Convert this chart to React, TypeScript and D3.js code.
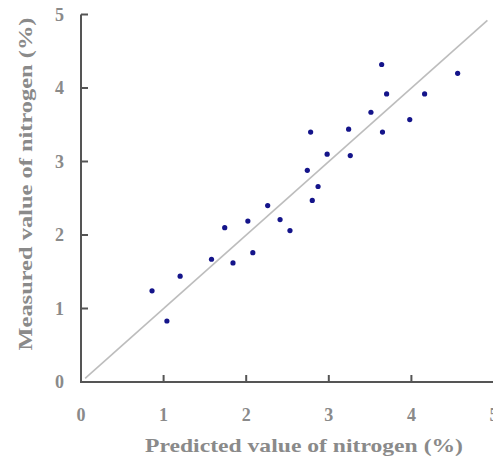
import React from "react";
import * as d3 from "d3";

const predicted = [0.86, 1.04, 1.2, 1.58, 1.74, 1.84, 2.02, 2.08, 2.26, 2.41, 2.53, 2.8, 2.74, 2.87, 2.98, 2.78, 3.24, 3.26, 3.51, 3.65, 3.64, 3.7, 3.98, 4.16, 4.56];
const measured = [1.24, 0.83, 1.44, 1.67, 2.1, 1.62, 2.19, 1.76, 2.4, 2.21, 2.06, 2.47, 2.88, 2.66, 3.1, 3.4, 3.44, 3.08, 3.67, 3.4, 4.32, 3.92, 3.57, 3.92, 4.2];
const xTicks = [0, 1, 2, 3, 4, 5];
const yTicks = [0, 1, 2, 3, 4, 5];
const refLine = [0.05, 4.92];

const W = 493;
const H = 461;

export default function App() {
  const x = d3.scaleLinear().domain([0, 5]).range([81, 494]);
  const y = d3.scaleLinear().domain([0, 5]).range([382, 14.5]);
  const axisColor = "#555";
  const labelColor = "#8a8a8a";
  const font = "'Liberation Serif', 'Times New Roman', serif";
  const line = d3.line<number>().x((d) => x(d)).y((d) => y(d));

  return (
    <svg width={W} height={H} style={{ position: "absolute", left: 0, top: 0, background: "#fff" }}>
      <path d={line(refLine) || ""} stroke="#bdbdbd" strokeWidth={1.6} fill="none" />
      <line x1={x(0)} x2={x(0)} y1={y(5)} y2={y(0) + 1} stroke={axisColor} strokeWidth={2} />
      <line x1={x(0) - 1} x2={W} y1={y(0)} y2={y(0)} stroke={axisColor} strokeWidth={2} />
      {yTicks.filter((t) => t > 0).map((t) => (
        <line key={"yt" + t} x1={x(0)} x2={x(0) + 7} y1={y(t)} y2={y(t)} stroke={axisColor} strokeWidth={2} />
      ))}
      {xTicks.filter((t) => t > 0).map((t) => (
        <line key={"xt" + t} x1={x(t)} x2={x(t)} y1={y(0)} y2={y(0) - 7} stroke={axisColor} strokeWidth={2} />
      ))}
      {yTicks.map((t) => (
        <text key={"yl" + t} x={64} y={y(t)} dy="0.35em" textAnchor="end" fontFamily={font} fontSize={18} fontWeight="bold" fill={labelColor}>
          {t}
        </text>
      ))}
      {xTicks.map((t) => (
        <text key={"xl" + t} x={x(t)} y={421} textAnchor="middle" fontFamily={font} fontSize={18} fontWeight="bold" fill={labelColor}>
          {t}
        </text>
      ))}
      {predicted.map((p, i) => (
        <circle key={"pt" + i} cx={x(p)} cy={y(measured[i])} r={2.6} fill="#14148a" />
      ))}
      <text x={304} y={452} textAnchor="middle" fontFamily={font} fontSize={19} fontWeight="bold" fill={labelColor} textLength={318} lengthAdjust="spacingAndGlyphs">
        Predicted value of nitrogen (%)
      </text>
      <text transform={`translate(32,${184}) rotate(-90)`} textAnchor="middle" fontFamily={font} fontSize={19} fontWeight="bold" fill={labelColor} textLength={333} lengthAdjust="spacingAndGlyphs">
        Measured value of nitrogen (%)
      </text>
    </svg>
  );
}
